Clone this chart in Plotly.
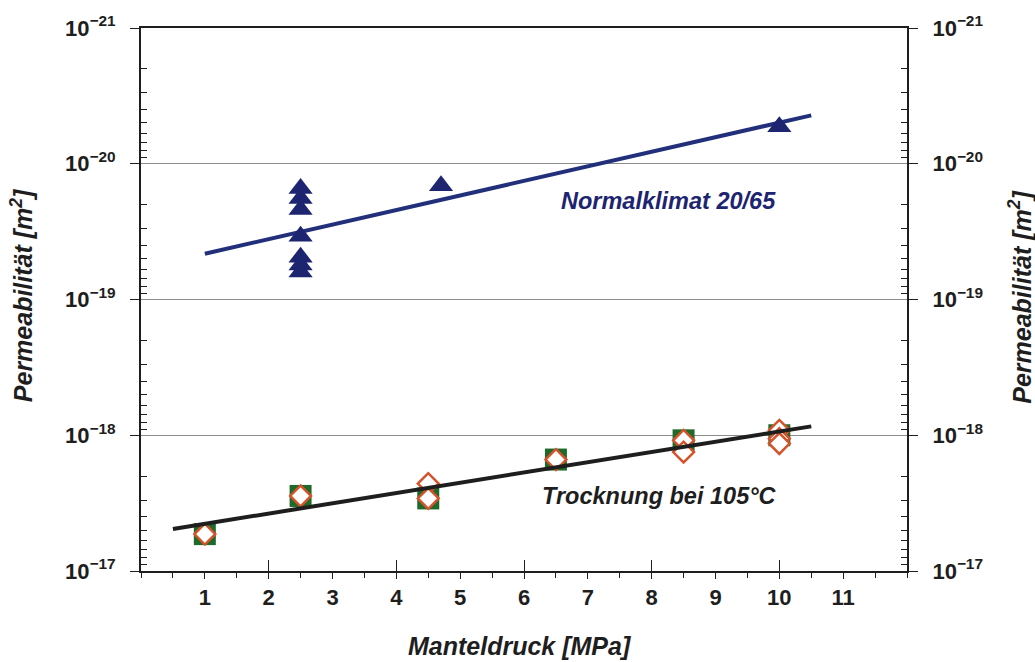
import plotly.graph_objects as go

# ---- data ----
pressure_normal = [2.5, 2.5, 2.5, 2.5, 2.5, 2.5, 2.5, 4.7, 10.0]
perm_normal = [1.52e-20, 1.80e-20, 2.17e-20, 3.42e-20, 4.88e-20, 5.58e-20, 6.28e-20, 1.45e-20, 5.33e-21]

pressure_sq = [1.0, 2.5, 4.5, 6.5, 8.5, 10.0]
perm_sq = [5.35e-18, 2.80e-18, 2.92e-18, 1.51e-18, 1.09e-18, 1.00e-18]

pressure_dia = [1.0, 2.5, 4.5, 4.5, 6.5, 8.5, 8.5, 10.0, 10.0, 10.0]
perm_dia = [5.35e-18, 2.80e-18, 2.27e-18, 2.92e-18, 1.51e-18, 1.09e-18, 1.33e-18, 9.2e-19, 1.06e-18, 1.15e-18]

fit_normal_x = [1.0, 10.5]
fit_normal_y = [4.6e-20, 4.4e-21]
fit_dry_x = [0.5, 10.5]
fit_dry_y = [4.9e-18, 8.6e-19]

x_ticks = list(range(1, 12))
y_exponents = [-21, -20, -19, -18, -17]
label_normal = "Normalklimat 20/65"
label_dry = "Trocknung bei 105°C"
x_title = "Manteldruck [MPa]"
y_title = "Permeabilität [m<sup>2</sup>]"

NAVY = "#1d2470"
DARK = "#1e1e1e"
GREEN = "#1f6a2b"
ORANGE = "#d4532b"
FONT = "Liberation Sans, Arial, sans-serif"

fig = go.Figure()

fig.add_trace(go.Scatter(x=pressure_sq, y=perm_sq, mode="markers",
                         marker=dict(symbol="square", size=22, color=GREEN, line=dict(width=0)),
                         showlegend=False))
fig.add_trace(go.Scatter(x=pressure_dia, y=perm_dia, mode="markers",
                         marker=dict(symbol="diamond", size=16, color="white",
                                     line=dict(color=ORANGE, width=2.5)),
                         showlegend=False))
fig.add_trace(go.Scatter(x=fit_dry_x, y=fit_dry_y, mode="lines",
                         line=dict(color=DARK, width=4), showlegend=False))
fig.add_trace(go.Scatter(x=fit_normal_x, y=fit_normal_y, mode="lines",
                         line=dict(color="#22307c", width=4), showlegend=False))
fig.add_trace(go.Scatter(x=pressure_normal, y=perm_normal, mode="markers",
                         marker=dict(symbol="triangle-up", size=21, color=NAVY, line=dict(width=0)),
                         showlegend=False))
# helper traces so the secondary axes are drawn
fig.add_trace(go.Scatter(x=[None], y=[None], yaxis="y2", showlegend=False, hoverinfo="skip"))
fig.add_trace(go.Scatter(x=[None], y=[None], xaxis="x2", showlegend=False, hoverinfo="skip"))

y_tickvals = [10.0 ** e for e in y_exponents]
y_ticktext = ["<b>10<sup>−%d</sup></b>" % (-e) for e in y_exponents]
minor_vals = [k * 10.0 ** e for e in range(-21, -17) for k in range(2, 10)]

yax = dict(type="log", range=[-17, -21], tickvals=y_tickvals, ticktext=y_ticktext,
           ticks="outside", ticklen=9, tickwidth=1.2, tickcolor=DARK,
           showgrid=True, gridcolor="#8c8c8c", gridwidth=1,
           showline=True, linecolor=DARK, linewidth=2,
           tickfont=dict(family=FONT, size=22, color=DARK),
           ticklabelstandoff=10, zeroline=False,
           minor=dict(tickvals=minor_vals, ticks="inside", ticklen=6, tickwidth=1,
                      tickcolor=DARK, showgrid=False))


def note(text, x, y, size, color, angle=0):
    return dict(text="<b><i>" + text + "</i></b>", xref="paper", yref="paper",
                x=x, y=y, xanchor="center", yanchor="middle", textangle=angle,
                showarrow=False, font=dict(family=FONT, size=size, color=color))


fig.update_layout(
    width=1035, height=662,
    paper_bgcolor="white", plot_bgcolor="white",
    margin=dict(l=141, r=128, t=26, b=91),
    xaxis=dict(range=[0, 12], tickvals=x_ticks, ticktext=["<b>%d</b>" % v for v in x_ticks],
               ticks="outside", ticklen=6,
               tickwidth=1.2, tickcolor=DARK, showgrid=False, zeroline=False,
               showline=True, linecolor=DARK, linewidth=2, mirror=True,
               tickfont=dict(family=FONT, size=22, color=DARK), ticklabelstandoff=0,
               minor=dict(dtick=0.5, tick0=0, ticks="outside", ticklen=5, tickwidth=1,
                          tickcolor=DARK)),
    xaxis2=dict(overlaying="x", matches="x", anchor="y", side="bottom", range=[0, 12],
                dtick=2, tick0=0, ticks="inside", ticklen=11, tickwidth=1.2,
                tickcolor=DARK, showticklabels=False, showgrid=False,
                showline=False, zeroline=False),
    yaxis=yax,
    yaxis2=dict(yax, overlaying="y", side="right", anchor="x"),
    annotations=[
        note(label_normal, 0.688, 0.681, 23.5, NAVY),
        note(label_dry, 0.6775, 0.1376, 23.5, DARK),
        note(x_title, 0.495, -0.139, 25, DARK),
        note(y_title, -0.1553, 0.508, 25, DARK, -90),
        note(y_title, 1.1475, 0.505, 25, DARK, -90),
    ],
)

fig.write_html("out.html", config={"displayModeBar": False},
               post_script="document.body.style.margin='0';")
